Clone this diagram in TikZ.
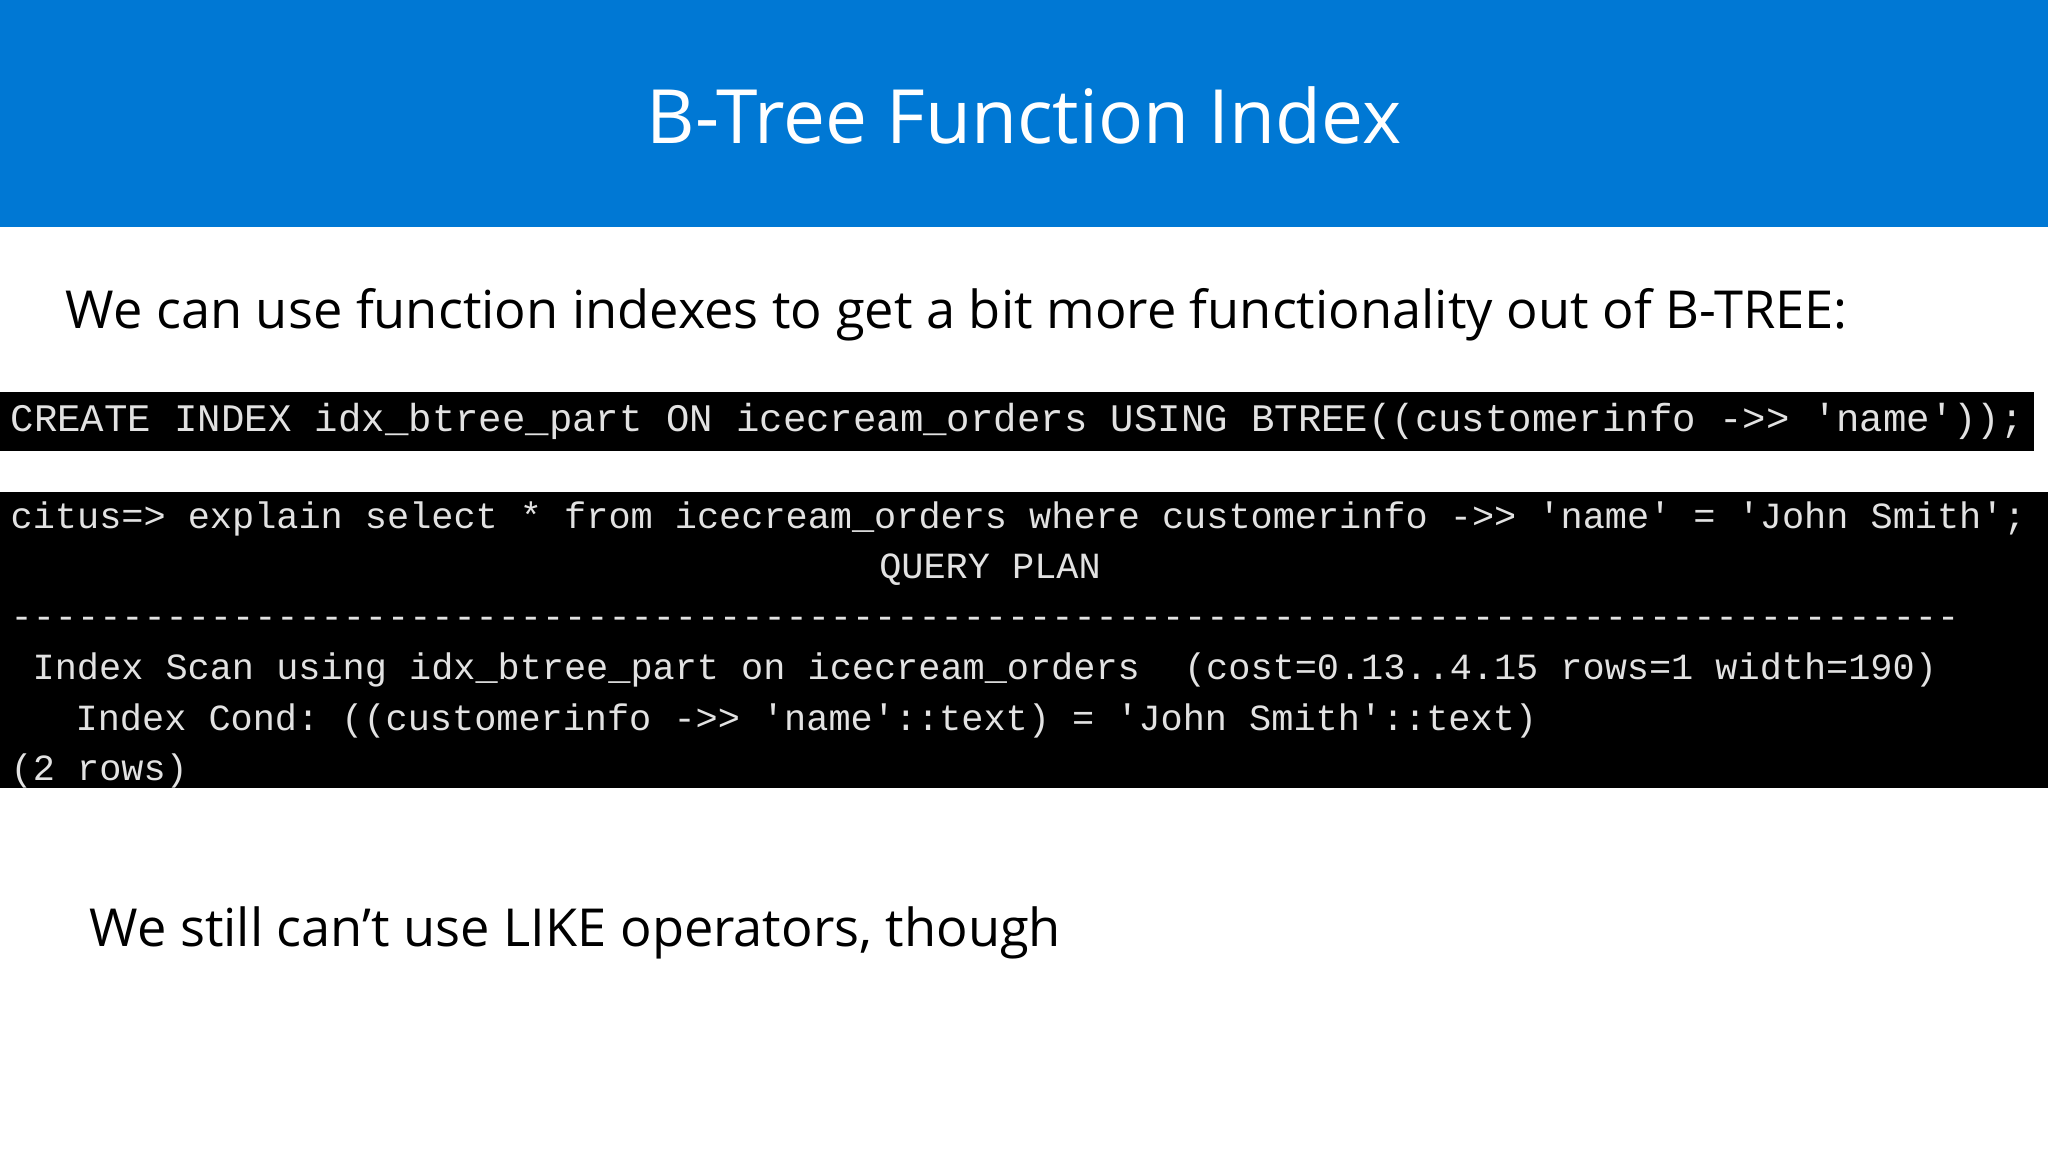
\documentclass[tikz,border=0pt]{standalone}
\usepackage{fontspec}
\setmainfont{Open Sans}
\setmonofont{Liberation Mono}
\definecolor{headblue}{HTML}{0078D4}
\definecolor{termgray}{HTML}{E2E2E2}
\begin{document}
\begin{tikzpicture}
  \tikzset{
    slide text/.style={anchor=base west, inner sep=0pt, font=\fontsize{14.9}{18}\selectfont},
    term line/.style={anchor=base west, inner sep=0pt, text=termgray, font=\ttfamily\fontsize{10.5}{13}\selectfont}
  }
  % slide and header
  \useasboundingbox (0,0) rectangle (20.48,-11.52);
  \fill[white] (0,0) rectangle (20.48,-11.52);
  \fill[headblue] (0,0) rectangle (20.48,-2.27);
  \node[anchor=center, text=white, font=\fontsize{21.3}{26}\selectfont] (title) at (10.24,-1.15) {B-Tree Function Index};
  \node[slide text] (intro) at (0.65,-3.29) {We can use function indexes to get a bit more functionality out of B-TREE:};
  % terminal boxes
  \fill[black] (0,-3.92) rectangle (20.34,-4.51);
  \fill[black] (0,-4.92) rectangle (20.48,-7.88);
  \node[term line, font=\ttfamily\fontsize{11.1}{13}\selectfont] (create) at (0.10,-4.32) {CREATE INDEX idx\_btree\_part ON icecream\_orders USING BTREE((customerinfo ->> 'name'));};
  \node[term line] (explain) at (0.10,-5.29) {citus=> explain select * from icecream\_orders where customerinfo ->> 'name' = 'John Smith';};
  \node[term line, anchor=base] (plan) at (9.90,-5.79) {QUERY PLAN};
  \node[term line] (dashes) at (0.10,-6.29) {----------------------------------------------------------------------------------------};
  \node[term line] (scan) at (0.32,-6.80) {Index Scan using idx\_btree\_part on icecream\_orders\ \ (cost=0.13..4.15 rows=1 width=190)};
  \node[term line] (cond) at (0.75,-7.31) {Index Cond: ((customerinfo ->> 'name'::text) = 'John Smith'::text)};
  \node[term line] (rows) at (0.10,-7.81) {(2 rows)};
  % closing remark
  \node[slide text] (remark) at (0.89,-9.46) {We still can’t use LIKE operators, though};
\end{tikzpicture}
\end{document}
